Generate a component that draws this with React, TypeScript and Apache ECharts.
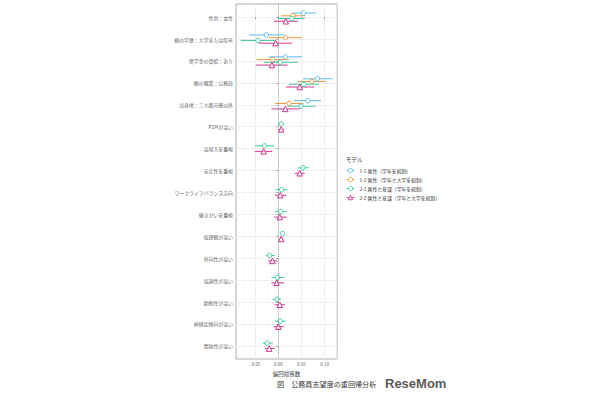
import React, { useEffect, useRef } from "react";
import * as echarts from "echarts";

const categories = [
  "性別：女性",
  "親の学歴：大学または院卒",
  "奨学金の受給：あり",
  "親の職業：公務員",
  "出身地：三大都市圏以外",
  "PSMが高い",
  "高収入を重視",
  "安定性を重視",
  "ワークライフバランス志向",
  "働きがいを重視",
  "倫理観が高い",
  "外向性が高い",
  "協調性が高い",
  "勤勉性が高い",
  "神経症傾向が高い",
  "開放性が高い",
];

const modelNames = [
  "1-1 属性（学年を統制）",
  "1-2 属性（学年と大学を統制）",
  "2-1 属性と意識（学年を統制）",
  "2-2 属性と意識（学年と大学を統制）",
];
const modelColors = ["#5BBCE4", "#E79A3C", "#3FCBA0", "#D2358F"];
const modelSymbols = ["circle", "circle", "circle", "triangle"];

const N = null;
// model 1-1
const est11 = [0.054, -0.026, 0.015, 0.084, 0.063, N, N, N, N, N, N, N, N, N, N, N];
const lo11 = [0.030, -0.063, -0.021, 0.053, 0.033, N, N, N, N, N, N, N, N, N, N, N];
const hi11 = [0.082, 0.011, 0.051, 0.117, 0.092, N, N, N, N, N, N, N, N, N, N, N];
// model 1-2
const est12 = [0.031, 0.015, -0.012, 0.072, 0.023, N, N, N, N, N, N, N, N, N, N, N];
const lo12 = [0.006, -0.021, -0.047, 0.042, -0.008, N, N, N, N, N, N, N, N, N, N, N];
const hi12 = [0.058, 0.051, 0.023, 0.103, 0.054, N, N, N, N, N, N, N, N, N, N, N];
// model 2-1
const est21 = [0.029, -0.044, 0.004, 0.055, 0.049, 0.006, -0.030, 0.053, 0.007, 0.005, 0.009, -0.019, -0.002, -0.003, 0.004, -0.024];
const lo21 = [-0.001, -0.081, -0.031, 0.023, 0.019, 0.001, -0.051, 0.042, -0.006, -0.008, 0.005, -0.027, -0.015, -0.013, -0.008, -0.034];
const hi21 = [0.057, -0.006, 0.041, 0.087, 0.080, 0.011, -0.009, 0.066, 0.020, 0.019, 0.013, -0.008, 0.013, 0.006, 0.016, -0.012];
// model 2-2
const est22 = [0.016, -0.006, -0.014, 0.046, 0.015, 0.006, -0.032, 0.046, 0.004, 0.003, 0.006, -0.013, -0.004, 0.003, 0.000, -0.020];
const lo22 = [-0.010, -0.042, -0.049, 0.016, -0.015, 0.000, -0.051, 0.035, -0.008, -0.009, 0.002, -0.022, -0.015, -0.008, -0.010, -0.029];
const hi22 = [0.042, 0.030, 0.020, 0.077, 0.046, 0.012, -0.013, 0.057, 0.017, 0.018, 0.010, -0.002, 0.012, 0.014, 0.012, -0.008];

const majorTicks = [-0.05, 0, 0.05, 0.1];
const minorTicks = [-0.075, -0.025, 0.025, 0.075, 0.125];

const models = [
  { est: est11, lo: lo11, hi: hi11 },
  { est: est12, lo: lo12, hi: hi12 },
  { est: est21, lo: lo21, hi: hi21 },
  { est: est22, lo: lo22, hi: hi22 },
];

const FONT = "'Noto Sans CJK JP', 'Noto Sans', sans-serif";

function buildOption() {
  const dodgeWidth = 0.5;
  const barData: any[][] = models.map(() => []);
  const ptData: any[][] = models.map(() => []);
  categories.forEach((_, i) => {
    const present = models.map((m, k) => (m.est[i] !== null ? k : -1)).filter((k) => k >= 0);
    const n = present.length;
    present.forEach((k, j) => {
      const y = i + (j - (n - 1) / 2) * (dodgeWidth / n);
      const m = models[k];
      barData[k].push([m.est[i], y, m.lo[i], m.hi[i]]);
      ptData[k].push([m.est[i], y]);
    });
  });

  const series: any[] = [];
  // legend proxies (line + symbol icon)
  modelNames.forEach((name, k) => {
    series.push({
      type: "line",
      name,
      data: [],
      symbol: modelSymbols[k],
      symbolSize: 4,
      itemStyle: { color: "#ffffff", borderColor: modelColors[k], borderWidth: 0.9 },
      lineStyle: { color: modelColors[k], width: 0.9 },
    });
  });
  modelNames.forEach((name, k) => {
    series.push({
      type: "custom",
      name: name + " bar",
      data: barData[k],
      encode: { x: 0, y: 1 },
      z: 2,
      renderItem: (params: any, api: any) => {
        const y = api.value(1);
        const a = api.coord([api.value(2), y]);
        const b = api.coord([api.value(3), y]);
        return {
          type: "line",
          shape: { x1: a[0], y1: a[1], x2: b[0], y2: b[1] },
          style: { stroke: modelColors[k], lineWidth: 1 },
        };
      },
      markLine:
        k === 0
          ? {
              silent: true,
              symbol: "none",
              label: { show: false },
              lineStyle: { color: "#777", type: [1.2, 1.2], width: 0.6 },
              data: [{ xAxis: 0 }],
            }
          : undefined,
    });
  });
  modelNames.forEach((name, k) => {
    series.push({
      type: "scatter",
      name: name + " pt",
      data: ptData[k],
      z: 3,
      symbol: modelSymbols[k],
      symbolSize: modelSymbols[k] === "triangle" ? 5.5 : 4.5,
      itemStyle: { color: "#ffffff", borderColor: modelColors[k], borderWidth: 1, opacity: 1 },
    });
  });

  return {
    animation: false,
    backgroundColor: "#ffffff",
    textStyle: { fontFamily: FONT },
    title: [
      {
        text: "モデル",
        left: 346,
        top: 157.5,
        padding: 0,
        textStyle: { fontSize: 5.5, fontWeight: "normal", color: "#333", fontFamily: FONT },
      },
      {
        text: "図　公務員志望度の重回帰分析",
        left: 277,
        top: 380.4,
        padding: 0,
        textStyle: { fontSize: 7.1, fontWeight: "normal", color: "#333", fontFamily: FONT },
      },
      {
        text: "ReseMom",
        left: 385,
        top: 376.5,
        padding: 0,
        textStyle: { fontSize: 13, fontWeight: "bold", color: "#5a5a5a", fontFamily: "'Liberation Sans', Arial, sans-serif" },
      },
    ],
    legend: {
      data: modelNames,
      orient: "vertical",
      left: 346,
      top: 167.9,
      padding: 0,
      itemWidth: 8,
      itemHeight: 5.6,
      itemGap: 3.6,
      itemTextGap: 4,
      selectedMode: false,
      itemStyle: { color: "#ffffff", borderWidth: 0.9 },
      lineStyle: { width: 0.9 },
      textStyle: { fontSize: 4.85, color: "#333", fontFamily: FONT },
    },
    grid: {
      left: 236,
      right: 273,
      top: 4,
      bottom: 41,
      show: true,
      borderColor: "#9a9a9a",
      borderWidth: 0.8,
      backgroundColor: "transparent",
    },
    xAxis: [
      {
        type: "value",
        min: -0.0915,
        max: 0.1265,
        position: "bottom",
        axisLine: { show: false },
        axisTick: { show: true, length: 2, lineStyle: { color: "#666", width: 0.6 }, customValues: majorTicks },
        axisLabel: {
          customValues: majorTicks,
          formatter: (v: number) => v.toFixed(2),
          fontSize: 4.5,
          color: "#666",
          margin: 3,
          fontFamily: FONT,
        },
        splitLine: { show: true, lineStyle: { color: "#EBEBEB", width: 0.8 } },
        name: "偏回帰係数",
        nameLocation: "middle",
        nameGap: 8,
        nameTextStyle: { fontSize: 5.5, color: "#333", fontFamily: FONT },
      },
      {
        type: "value",
        min: -0.0915,
        max: 0.1265,
        position: "bottom",
        axisLine: { show: false },
        axisTick: { show: false, customValues: minorTicks },
        axisLabel: { show: false, customValues: minorTicks },
        splitLine: { show: true, lineStyle: { color: "#F2F2F2", width: 0.5 } },
      },
    ],
    yAxis: {
      type: "value",
      inverse: true,
      min: -0.6,
      max: 15.6,
      axisLine: { show: false },
      axisTick: {
        show: true,
        length: 2,
        lineStyle: { color: "#666", width: 0.6 },
        customValues: categories.map((_, i) => i),
      },
      axisLabel: {
        customValues: categories.map((_, i) => i),
        formatter: (v: number) => categories[Math.round(v)] ?? "",
        fontSize: 4.9,
        color: "#666",
        margin: 3,
        fontFamily: FONT,
      },
      splitLine: { show: true, lineStyle: { color: "#EBEBEB", width: 0.8 } },
    },
    series,
  };
}

export default function App() {
  const ref = useRef<HTMLDivElement>(null);
  useEffect(() => {
    if (!ref.current) return;
    const chart = echarts.init(ref.current, undefined, { renderer: "svg" });
    chart.setOption(buildOption() as any);
    return () => chart.dispose();
  }, []);
  return (
    <div
      ref={ref}
      style={{ position: "absolute", left: 0, top: 0, width: 610, height: 400, background: "#fff" }}
    />
  );
}
